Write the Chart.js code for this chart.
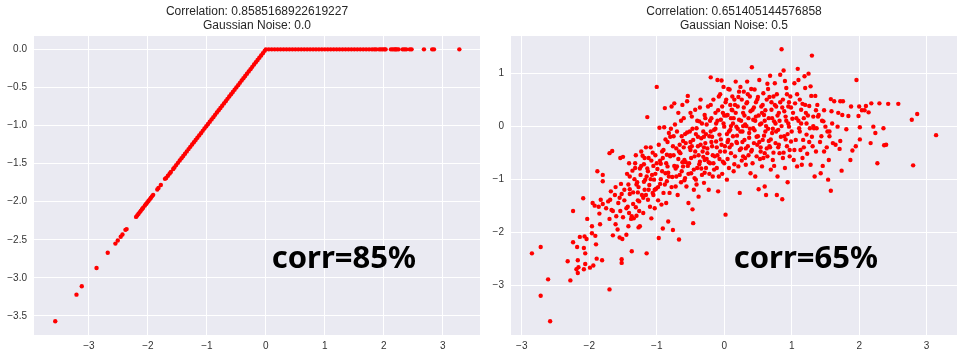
<!DOCTYPE html>
<html>
<head>
<meta charset="utf-8">
<script src="https://cdn.jsdelivr.net/npm/chart.js@4.4.0/dist/chart.umd.min.js"></script>
<style>
    html, body { margin: 0; padding: 0; background: #fff; }
    #wrap { position: relative; width: 966px; height: 363px; }
    #wrap canvas { position: absolute; top: 0; }
</style>
</head>
<body>
<div id="wrap">
    <canvas id="canvaRelu" width="483" height="363" style="left:0px"></canvas>
    <canvas id="canvaRuido" width="483" height="363" style="left:483px"></canvas>
</div>
<script>
// --- data ---
const leftTitle = ['Correlation: 0.8585168922619227', 'Gaussian Noise: 0.0'];
const rightTitle = ['Correlation: 0.651405144576858', 'Gaussian Noise: 0.5'];
const leftLabel = 'corr=85%';
const rightLabel = 'corr=65%';

const leftXTicks = [-3, -2, -1, 0, 1, 2, 3];
const leftYTicks = [0, -0.5, -1, -1.5, -2, -2.5, -3, -3.5];
const rightXTicks = [-3, -2, -1, 0, 1, 2, 3];
const rightYTicks = [1, 0, -1, -2, -3];

// noise 0.0: points sit on the kink
const leftPoints = [
    [-3.57, -3.57], [-3.21, -3.22], [-3.12, -3.11], [-2.87, -2.87], [-2.68, -2.67], [-2.55, -2.55],
    [-2.51, -2.51], [-2.46, -2.46], [-2.43, -2.43], [-2.38, -2.37], [-2.36, -2.36],
    [-2.20, -2.20], [-2.18, -2.18], [-2.16, -2.16], [-2.14, -2.14], [-2.12, -2.12], [-2.10, -2.10],
    [-2.08, -2.08], [-2.05, -2.05], [-2.03, -2.03], [-2.01, -2.01], [-1.99, -1.99], [-1.97, -1.97],
    [-1.95, -1.95], [-1.93, -1.93], [-1.91, -1.91], [-1.84, -1.84], [-1.82, -1.82], [-1.78, -1.78],
    [-1.71, -1.70], [-1.69, -1.69], [-1.66, -1.66], [-1.63, -1.63], [-1.61, -1.61], [-1.57, -1.57],
    [-1.55, -1.55], [-1.52, -1.52], [-1.49, -1.49], [-1.46, -1.46], [-1.43, -1.43], [-1.40, -1.40],
    [-1.37, -1.37], [-1.34, -1.34], [-1.31, -1.31], [-1.28, -1.28], [-1.25, -1.25], [-1.22, -1.22],
    [-1.19, -1.19], [-1.16, -1.16], [-1.13, -1.13], [-1.10, -1.10], [-1.07, -1.07], [-1.04, -1.04],
    [-1.01, -1.01], [-0.98, -0.98], [-0.95, -0.95], [-0.92, -0.92], [-0.89, -0.89], [-0.86, -0.86],
    [-0.83, -0.83], [-0.80, -0.80], [-0.77, -0.77], [-0.74, -0.74], [-0.71, -0.71], [-0.68, -0.68],
    [-0.65, -0.65], [-0.62, -0.62], [-0.59, -0.59], [-0.56, -0.56], [-0.53, -0.53], [-0.50, -0.50],
    [-0.47, -0.47], [-0.44, -0.44], [-0.41, -0.41], [-0.38, -0.38], [-0.35, -0.35], [-0.32, -0.32],
    [-0.29, -0.29], [-0.26, -0.26], [-0.23, -0.23], [-0.20, -0.20], [-0.17, -0.17], [-0.14, -0.14],
    [-0.11, -0.11], [-0.08, -0.08], [-0.05, -0.05], [-0.02, -0.02], [0.00, 0.00],
    [0.05, 0], [0.10, 0], [0.15, 0], [0.20, 0], [0.25, 0], [0.30, 0], [0.35, 0], [0.40, 0],
    [0.45, 0], [0.50, 0], [0.55, 0], [0.60, 0], [0.65, 0], [0.70, 0], [0.75, 0], [0.80, 0],
    [0.85, 0], [0.90, 0], [0.95, 0], [1.00, 0], [1.05, 0], [1.10, 0], [1.15, 0], [1.20, 0],
    [1.25, 0], [1.30, 0], [1.35, 0], [1.40, 0], [1.45, 0], [1.50, 0], [1.55, 0], [1.60, 0],
    [1.65, 0], [1.70, 0], [1.75, 0], [1.80, 0], [1.84, 0], [1.87, 0], [1.92, 0], [1.95, 0],
    [1.98, 0], [2.01, 0], [2.03, 0], [2.12, 0], [2.15, 0], [2.18, 0], [2.20, 0], [2.22, 0],
    [2.25, 0], [2.32, 0], [2.35, 0], [2.38, 0], [2.44, 0], [2.47, 0], [2.68, 0], [2.82, 0],
    [2.85, 0], [3.28, 0]
];

// noise 0.5: cloud
const rightPoints = [
    [-2.85, -2.40], [-2.72, -2.28], [-2.72, -3.20], [-2.61, -2.89], [-2.58, -3.68], [-2.32, -2.55],
    [-2.28, -2.91], [-2.24, -1.60], [-2.24, -2.19], [-2.19, -2.70], [-2.17, -2.77], [-2.17, -2.53],
    [-2.18, -2.28], [-2.14, -2.09], [-2.16, -2.66], [-2.09, -1.36], [-2.08, -2.30], [-2.06, -2.40],
    [-2.07, -2.08], [-2.08, -2.70], [-2.06, -2.60], [-2.03, -1.75], [-2.04, -2.13], [-1.99, -2.67],
    [-1.96, -2.02], [-1.96, -1.89], [-1.94, -2.63], [-1.92, -1.50], [-1.91, -2.07], [-1.90, -2.23],
    [-1.89, -2.50], [-1.88, -0.85], [-1.86, -1.52], [-1.84, -1.85], [-1.83, -1.39], [-1.81, -2.53],
    [-1.80, -0.92], [-1.80, -1.04], [-1.80, -1.47], [-1.72, -1.42], [-1.70, -0.51], [-1.70, -3.08],
    [-1.69, -1.39], [-1.68, -1.23], [-1.67, -1.58], [-1.66, -0.47], [-1.65, -2.06], [-1.65, -1.60],
    [-1.61, -1.15], [-1.61, -1.85], [-1.57, -1.45], [-1.55, -2.10], [-1.54, -1.60], [-1.54, -0.60],
    [-1.53, -1.09], [-1.52, -1.28], [-1.52, -2.51], [-1.52, -2.58], [-1.51, -2.13], [-1.50, -0.58],
    [-1.50, -1.72], [-1.45, -2.05], [-1.43, -1.52], [-1.42, -1.89], [-1.41, -1.64], [-1.41, -0.70],
    [-1.40, -1.19], [-1.40, -1.28], [-1.37, -2.36], [-1.37, -1.70], [-1.36, -0.84], [-1.35, -1.47],
    [-1.34, -1.74], [-1.32, -0.70], [-1.32, -0.79], [-1.31, -1.53], [-1.30, -1.69], [-1.29, -1.06],
    [-1.28, -1.25], [-1.27, -1.91], [-1.26, -1.42], [-1.25, -1.89], [-1.24, -0.92], [-1.23, -0.48],
    [-1.22, -1.30], [-1.21, -0.56], [-1.20, -1.64], [-1.19, -0.72], [-1.18, -1.20], [-1.17, -1.01],
    [-1.16, -1.30], [-1.15, -2.40], [-1.14, 0.17], [-1.14, -0.80], [-1.13, -1.39], [-1.12, -0.60],
    [-1.11, -1.11], [-1.10, -1.52], [-1.09, -0.40], [-1.08, -1.74], [-1.07, -0.92], [-1.06, -1.26],
    [-1.05, -0.75], [-1.04, -1.01], [-1.03, -1.55], [-1.02, -0.55], [-1.01, -1.18], [-1.00, 0.74],
    [-0.99, -0.81], [-0.98, -1.40], [-0.97, -2.11], [-0.96, -0.03], [-0.95, -1.09], [-0.94, -0.71],
    [-0.93, -1.48], [-0.92, -0.48], [-0.91, -1.93], [-0.90, -1.26], [-0.89, -0.02], [-0.88, 0.34],
    [-0.87, -0.89], [-0.86, -1.45], [-0.85, -0.54], [-0.85, -1.04], [-0.84, -0.76], [-0.83, -1.80],
    [-0.82, -0.13], [-0.81, -1.26], [-0.80, -0.57], [-0.78, 0.37], [-0.77, -0.96], [-0.76, -1.96],
    [-0.75, -0.19], [-0.74, 0.43], [-0.73, 0.03], [-0.72, -1.14], [-0.71, -0.42], [-0.70, -0.76],
    [-0.69, -1.30], [-0.68, 0.25], [-0.67, -2.14], [-0.66, -0.92], [-0.65, -0.51], [-0.64, -1.06],
    [-0.63, -0.19], [-0.62, 0.40], [-0.61, -0.76], [-0.60, 0.15], [-0.59, -0.64], [-0.58, -0.98],
    [-0.57, -0.32], [-0.56, -1.14], [-0.55, 0.47], [-0.54, 0.57], [-0.53, -1.45], [-0.52, -0.70],
    [-0.51, -0.10], [-0.50, -0.45], [-0.49, -0.89], [-0.48, 0.18], [-0.47, -1.57], [-0.46, -1.83],
    [-0.46, -0.26], [-0.45, -1.20], [-0.44, -0.57], [-0.43, 0.31], [-0.42, -1.01], [-0.41, -0.04],
    [-0.40, -0.79], [-0.39, -0.38], [-0.38, -1.33], [-0.37, 0.09], [-0.36, -0.67], [-0.35, 0.50],
    [-0.34, -0.23], [-0.33, -0.92], [-0.32, -0.48], [-0.31, -0.10], [-0.30, -1.07], [-0.29, 0.21],
    [-0.29, -0.64], [-0.28, -0.32], [-0.27, -0.79], [-0.26, 0.03], [-0.25, -0.51], [-0.24, 0.37],
    [-0.23, -1.20], [-0.22, -0.19], [-0.21, -0.70], [-0.20, 0.92], [-0.19, 0.15], [-0.18, -0.38],
    [-0.17, -0.95], [-0.16, 0.50], [-0.15, -0.07], [-0.14, -0.57], [-0.13, 0.25], [-0.12, -0.29],
    [-0.11, -0.79], [-0.10, 0.87], [-0.09, -1.23], [-0.08, 0.56], [-0.07, -0.16], [-0.06, -0.48],
    [-0.05, 0.12], [-0.04, 0.86], [-0.03, 0.37], [-0.02, -0.67], [-0.01, 0.74], [0.00, -0.01],
    [0.01, -0.38], [0.02, -1.67], [0.03, 0.50], [0.04, -1.01], [0.05, 0.21], [0.06, -0.26],
    [0.07, -0.79], [0.08, 0.69], [0.09, -0.07], [0.10, -0.51], [0.11, 0.31], [0.12, 0.56],
    [0.13, -0.19], [0.14, 0.15], [0.15, 0.50], [0.16, -0.57], [0.17, 0.84], [0.18, -0.01],
    [0.19, -0.32], [0.20, 0.37], [0.21, -0.76], [0.22, 0.12], [0.23, -1.26], [0.24, 0.74],
    [0.25, -0.42], [0.26, 0.50], [0.27, -0.10], [0.28, -0.57], [0.28, 0.25], [0.29, 0.65],
    [0.30, -0.26], [0.31, 0.03], [0.32, -0.73], [0.33, 0.43], [0.34, 0.84], [0.35, -0.38],
    [0.36, 0.15], [0.37, -0.13], [0.38, 0.56], [0.39, -0.89], [0.40, -0.48], [0.41, 1.11],
    [0.42, 0.31], [0.43, -0.04], [0.44, -0.32], [0.45, 0.69], [0.46, -0.95], [0.47, 0.18],
    [0.48, -0.57], [0.49, 0.50], [0.50, -0.19], [0.51, -1.19], [0.52, 0.87], [0.53, 0.03],
    [0.54, -0.48], [0.55, 0.37], [0.56, -0.76], [0.57, -0.26], [0.58, 0.62], [0.59, 0.21],
    [0.60, -0.51], [0.60, -1.14], [0.61, -0.10], [0.62, -1.30], [0.63, 0.50], [0.64, -0.57],
    [0.65, 0.70], [0.66, 0.15], [0.67, -0.38], [0.68, 0.95], [0.69, -0.82], [0.70, 0.31],
    [0.71, -0.13], [0.72, -0.64], [0.73, 0.56], [0.74, 0.09], [0.75, 0.81], [0.76, -0.32],
    [0.77, 0.37], [0.78, -1.30], [0.79, -0.95], [0.80, -0.07], [0.81, 0.25], [0.82, -0.51],
    [0.83, 0.97], [0.85, 1.45], [0.86, -1.38], [0.87, 0.50], [0.88, 1.05], [0.89, -0.19],
    [0.90, -0.79], [0.91, 0.18], [0.92, 0.72], [0.93, -0.38], [0.94, -1.06], [0.95, 0.37],
    [0.96, -0.01], [0.97, -0.57], [0.98, 0.56], [0.99, -0.29], [1.01, 0.14], [1.03, -0.64],
    [1.04, 0.81], [1.05, 0.43], [1.06, -0.26], [1.07, 0.15], [1.08, -0.76], [1.09, 1.08],
    [1.10, 0.87], [1.11, -0.04], [1.12, 0.50], [1.13, -0.45], [1.14, 0.31], [1.15, -0.73],
    [1.16, 0.42], [1.17, -0.26], [1.18, 0.15], [1.19, 0.94], [1.20, 0.72], [1.21, 0.25],
    [1.22, -0.16], [1.23, -0.52], [1.25, 0.99], [1.26, 0.38], [1.27, -0.04], [1.28, -0.73],
    [1.29, 0.57], [1.30, 1.33], [1.31, -0.38], [1.32, 0.18], [1.33, -0.04], [1.34, -0.95],
    [1.35, 0.57], [1.36, -0.48], [1.37, -0.04], [1.39, 0.18], [1.40, 0.21], [1.43, -0.89],
    [1.44, -0.19], [1.46, -0.75], [1.47, 0.09], [1.48, -0.48], [1.50, -0.01], [1.53, -0.10],
    [1.54, -1.01], [1.55, -0.64], [1.56, -0.19], [1.58, -1.22], [1.58, 0.51], [1.59, 0.28],
    [1.61, -0.32], [1.63, 0.47], [1.65, -0.35], [1.68, -0.01], [1.69, 0.25], [1.71, -0.43],
    [1.72, 0.47], [1.72, -0.28], [1.74, -0.84], [1.75, 0.21], [1.76, 0.47], [1.81, -0.06],
    [1.84, 0.19], [1.87, -0.64], [1.88, 0.37], [1.90, -0.46], [1.95, -0.38], [1.96, 0.87],
    [1.99, 0.19], [2.00, 0.37], [2.01, -0.02], [2.01, -0.25], [2.04, 0.30], [2.08, 0.30],
    [2.10, 0.38], [2.14, 0.26], [2.17, -0.32], [2.18, 0.43], [2.21, -0.01], [2.24, -0.13],
    [2.27, -0.70], [2.30, 0.43], [2.36, -0.04], [2.37, -0.36], [2.40, -0.35], [2.43, 0.42],
    [2.58, 0.42], [2.78, 0.12], [2.80, -0.74], [2.86, 0.23], [3.14, -0.17],
    [-0.72, -0.80], [-0.68, -0.62], [-0.66, -0.35], [-0.63, -0.85], [-0.61, -0.28], [-0.59, -1.02],
    [-0.57, -0.68], [-0.55, -0.12], [-0.53, -0.90], [-0.51, -0.40], [-0.49, -0.60], [-0.47, -0.05],
    [-0.45, -0.82], [-0.43, -0.48], [-0.41, -1.10], [-0.39, -0.20], [-0.37, -0.72], [-0.35, -0.35],
    [-0.33, 0.05], [-0.31, -0.58], [-0.29, -0.88], [-0.27, -0.15], [-0.25, -0.42], [-0.23, -0.68],
    [-0.21, 0.10], [-0.19, -0.30], [-0.17, -0.55], [-0.15, -0.82], [-0.13, -0.05], [-0.11, -0.40],
    [-0.09, 0.30], [-0.07, -0.62], [-0.05, -0.25], [-0.03, -0.90], [-0.01, 0.05], [0.01, -0.48],
    [0.03, 0.20], [0.05, -0.62], [0.07, -0.10], [0.09, 0.40], [0.11, -0.35], [0.13, 0.05],
    [0.15, -0.72], [0.17, 0.25], [0.19, -0.18], [0.21, 0.55], [0.23, -0.45], [0.25, 0.10],
    [0.27, -0.30], [0.29, 0.35], [0.31, -0.60], [0.33, 0.00], [0.35, 0.60], [0.37, -0.22],
    [0.39, 0.28], [0.41, -0.45], [0.43, 0.12], [0.45, -0.08], [0.47, 0.45], [0.49, -0.35],
    [0.51, 0.20], [0.53, -0.62], [0.55, 0.05], [0.57, 0.40], [0.59, -0.18], [0.61, 0.30],
    [0.63, -0.42], [0.65, -0.05], [0.67, 0.55], [0.69, -0.25], [0.71, 0.15], [0.73, -0.50],
    [0.75, 0.40], [0.77, -0.10], [0.79, 0.20], [0.81, -0.35], [0.83, 0.45], [0.85, 0.00],
    [0.87, -0.60], [0.89, 0.28], [0.91, -0.25], [0.93, 0.60], [0.95, 0.05], [0.97, -0.45],
    [0.99, 0.35], [-0.95, -0.65], [-0.92, -0.85], [-0.90, -0.45], [-0.88, -1.10], [-0.86, -0.70],
    [-0.84, -0.30], [-0.82, -0.95], [-0.80, -0.55], [-0.78, -1.15], [-0.76, -0.38], [-0.74, -0.75],
    [-1.30, -1.10], [-1.25, -0.80], [-1.20, -1.35], [-1.15, -0.95], [-1.12, -1.20], [-1.08, -0.65],
    [-1.05, -1.30], [-1.02, -0.90], [-0.98, -1.15], [-1.18, -0.60], [-1.28, -1.40], [-1.35, -1.25],
    [-1.40, -0.95], [-1.45, -1.55], [-1.48, -1.20], [-1.55, -1.35], [-1.60, -1.70], [-1.38, -1.75],
    [-1.26, -1.60], [0.05, -0.30], [0.12, 0.30], [0.20, -0.05], [0.28, 0.00], [0.36, -0.55],
    [0.44, 0.35], [0.52, -0.30], [0.60, 0.10], [0.68, -0.40], [0.76, 0.05], [0.84, -0.20],
    [0.92, 0.10], [1.00, -0.10], [1.10, 0.10], [1.18, -0.40], [1.24, 0.20], [1.30, -0.20],
    [1.38, 0.40], [1.45, 0.10], [1.52, -0.40], [1.60, 0.05], [-0.20, -0.10], [-0.10, 0.10],
    [0.00, 0.20], [0.10, 0.00], [-0.30, -0.20], [-0.40, 0.10], [-0.60, -0.40], [-0.50, -0.30],
    [-0.70, -0.10], [-0.80, -0.20],
    [-1.95, -1.45], [-1.85, -1.65], [-1.75, -1.55], [-1.70, -1.75], [-1.62, -1.30], [-1.58, -1.95],
    [-1.48, -1.40], [-1.44, -0.90], [-1.42, -1.10], [-1.33, -1.00], [-1.31, -0.55], [-1.27, -1.15],
    [-1.23, -0.75], [-1.19, -1.05], [-1.16, -0.40], [-1.13, -0.85], [-1.09, -1.00], [-1.06, -0.50],
    [-1.03, -1.20], [-1.00, -0.70], [-0.97, -0.35], [-0.94, -1.00], [-0.91, -0.60], [-0.87, -0.25],
    [-0.83, -0.88], [-0.79, -0.05], [-0.75, -0.55], [-0.71, -0.95], [-0.67, -0.48], [-0.64, 0.10],
    [-0.62, -0.68], [-0.58, -0.15], [-0.54, -0.75], [-0.50, 0.25], [-0.48, -0.38], [-0.44, -0.98],
    [-0.42, -0.15], [-0.38, -0.55], [-0.36, 0.35], [-0.34, -0.80], [-0.30, -0.40], [-0.28, 0.15],
    [-0.26, -0.62], [-0.22, -0.90], [-0.20, 0.40], [-0.18, -0.20], [-0.16, -0.70], [-0.12, 0.05],
    [-0.10, -0.55], [-0.08, -0.95], [-0.06, 0.60], [-0.04, -0.35], [-0.02, 0.25], [0.00, -0.70],
    [0.02, 0.45], [0.04, -0.15], [0.06, 0.70], [0.08, -0.40], [0.10, 0.15], [0.14, -0.85],
    [0.16, 0.40], [0.18, -0.30], [0.22, 0.65], [0.24, -0.10], [0.26, -0.65], [0.30, 0.20],
    [0.32, -0.42], [0.34, 0.45], [0.38, -0.05], [0.40, 0.70], [0.42, -0.70], [0.46, 0.10],
    [0.48, -0.20], [0.50, 0.55], [0.54, -0.40], [0.56, 0.25], [0.58, -0.60], [0.62, 0.00],
    [0.64, 0.80], [0.66, -0.28], [0.70, 0.45], [0.72, -0.05], [0.74, -0.75], [0.78, 0.60],
    [0.80, -0.40], [0.82, 0.10], [0.86, 0.35], [0.88, -0.50], [0.90, 0.85], [0.94, -0.15],
    [0.96, 0.45], [1.02, 0.25], [1.04, -0.45], [1.08, 0.60], [1.12, -0.10], [1.14, 0.05],
    [1.16, -0.60], [1.20, 0.40], [1.22, 0.05], [1.26, -0.30], [1.28, 0.75], [1.32, 0.00],
    [1.36, 0.30], [1.42, -0.30], [1.48, 0.30], [1.56, -0.10]
];

// --- plugins ---
const fondoPlugin = {
    id: 'fondo',
    beforeDraw(chart) {
        const { ctx, chartArea: a } = chart;
        ctx.save();
        ctx.fillStyle = '#EAEAF2';
        ctx.fillRect(a.left, a.top, a.right - a.left, a.bottom - a.top);
        ctx.restore();
    }
};

const etiquetaPlugin = {
    id: 'etiqueta',
    afterDatasetsDraw(chart, args, opts) {
        const ctx = chart.ctx;
        const px = chart.scales.x.getPixelForValue(opts.x);
        const py = chart.scales.y.getPixelForValue(opts.y);
        ctx.save();
        ctx.font = 'bold 31px "Noto Sans", "Open Sans", sans-serif';
        ctx.fillStyle = '#000';
        ctx.textAlign = 'left';
        ctx.textBaseline = 'alphabetic';
        ctx.fillText(opts.text, px, py);
        ctx.restore();
    }
};

const fuente = '"Liberation Sans", Arial, sans-serif';
const menos = (s) => String(s).replace('-', '\u2212');

function crearGrafico(idCanvas, cfg) {
    return new Chart(document.getElementById(idCanvas), {
        type: 'scatter',
        plugins: [fondoPlugin, etiquetaPlugin],
        data: {
            datasets: [{
                data: cfg.puntos.map(p => ({ x: p[0], y: p[1] })),
                backgroundColor: '#ff0000',
                borderWidth: 0,
                pointRadius: 2.2,
                pointHoverRadius: 2.2
            }]
        },
        options: {
            responsive: false,
            animation: false,
            devicePixelRatio: 1,
            events: [],
            layout: { padding: { left: 0, right: cfg.padDer, top: 0, bottom: 0 } },
            plugins: {
                legend: { display: false },
                tooltip: { enabled: false },
                title: {
                    display: true,
                    text: cfg.titulo,
                    fullSize: false,
                    color: '#262626',
                    font: { family: fuente, size: 12, weight: 'normal', lineHeight: 14 / 12 },
                    padding: { top: 5, bottom: 3 }
                },
                etiqueta: { text: cfg.etiqueta, x: cfg.etqX, y: cfg.etqY }
            },
            scales: {
                x: {
                    min: cfg.xMin, max: cfg.xMax,
                    afterBuildTicks: (s) => { s.ticks = cfg.xTicks.map(v => ({ value: v })); },
                    afterFit: (s) => { s.height = 28; },
                    border: { display: false },
                    grid: { color: '#ffffff', lineWidth: 1, drawTicks: false },
                    ticks: {
                        padding: 5, color: '#333',
                        font: { family: fuente, size: 10 },
                        callback: (v) => menos(v)
                    }
                },
                y: {
                    min: cfg.yMin, max: cfg.yMax,
                    afterBuildTicks: (s) => { s.ticks = cfg.yTicks.map(v => ({ value: v })); },
                    afterFit: (s) => { s.width = cfg.anchoY; },
                    border: { display: false },
                    grid: { color: '#ffffff', lineWidth: 1, drawTicks: false },
                    ticks: {
                        padding: 7, color: '#333',
                        font: { family: fuente, size: 10 },
                        callback: (v) => menos(cfg.decimales ? v.toFixed(1) : v)
                    }
                }
            }
        }
    });
}

crearGrafico('canvaRelu', {
    puntos: leftPoints, titulo: leftTitle, etiqueta: leftLabel, etqX: 0.10, etqY: -2.87,
    xMin: -3.93, xMax: 3.63, yMin: -3.75, yMax: 0.175,
    xTicks: leftXTicks, yTicks: leftYTicks, decimales: true, anchoY: 34, padDer: 3
});

crearGrafico('canvaRuido', {
    puntos: rightPoints, titulo: rightTitle, etiqueta: rightLabel, etqX: 0.14, etqY: -2.67,
    xMin: -3.16, xMax: 3.45, yMin: -3.94, yMax: 1.70,
    xTicks: rightXTicks, yTicks: rightYTicks, decimales: false, anchoY: 28, padDer: 9
});
</script>
</body>
</html>
